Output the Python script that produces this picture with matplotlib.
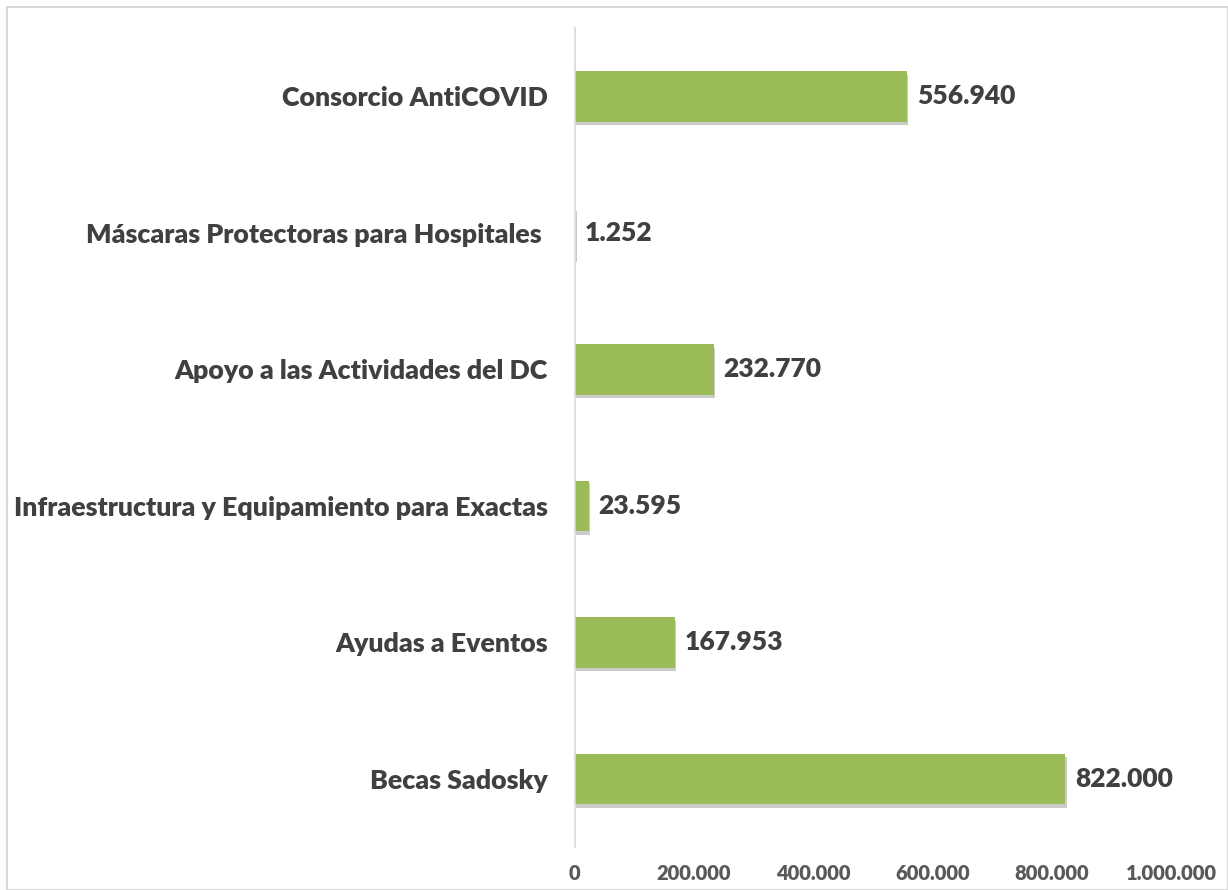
import matplotlib
matplotlib.use('Agg')
import matplotlib.pyplot as plt
import matplotlib.patheffects as pe
from matplotlib.patches import Rectangle
from matplotlib.ticker import FuncFormatter

# data (bottom to top)
categories = ['Becas Sadosky', 'Ayudas a Eventos',
              'Infraestructura y Equipamiento para Exactas',
              'Apoyo a las Actividades del DC',
              'Máscaras Protectoras para Hospitales ',
              'Consorcio AntiCOVID']
values = [822000, 167953, 23595, 232770, 1252, 556940]
xticks = [0, 200000, 400000, 600000, 800000, 1000000]

plt.rcParams['font.family'] = ['Lato', 'DejaVu Sans']

def fmt(v):
  return '{:,.0f}'.format(v).replace(',', '.')

fig = plt.figure(figsize=(12.28, 8.90), dpi=100)
ax = fig.add_axes([0.468, 0.048, 0.486, 0.9205])

bars = ax.barh(range(len(categories)), values, height=0.37, color='#9BBB59',
               path_effects=[pe.SimplePatchShadow(offset=(1, -2.5), alpha=0.3,
                                                  shadow_rgbFace='#555555'),
                             pe.Normal()])

for i, v in enumerate(values):
  ax.annotate(fmt(v), (v, i), xytext=(7, 0), textcoords='offset points',
              va='center', ha='left', fontsize=19, fontweight='heavy',
              color='#404040')

ax.set_xlim(0, 1000000)
ax.set_ylim(-0.5, len(categories) - 0.5)
ax.set_yticks(range(len(categories)))
ax.set_yticklabels(categories, fontsize=19.3, fontweight='heavy', color='#404040')
ax.set_xticks(xticks)
ax.xaxis.set_major_formatter(FuncFormatter(lambda v, p: fmt(v)))
for lbl in ax.get_xticklabels():
  lbl.set_fontsize(14.5)
  lbl.set_fontweight('heavy')
  lbl.set_color('#595959')
ax.tick_params(axis='y', length=0, pad=19.5)
ax.tick_params(axis='x', length=0, pad=12)

for s in ['top', 'right', 'bottom']:
  ax.spines[s].set_visible(False)
ax.spines['left'].set_color('#D9D9D9')
ax.spines['left'].set_linewidth(1.2)

# outer border
fig.patches.append(Rectangle((0.006, 0.0), 0.994, 0.992, transform=fig.transFigure,
                             fill=False, edgecolor='#D9D9D9', linewidth=1.5))

plt.savefig('out.png', dpi=100)
